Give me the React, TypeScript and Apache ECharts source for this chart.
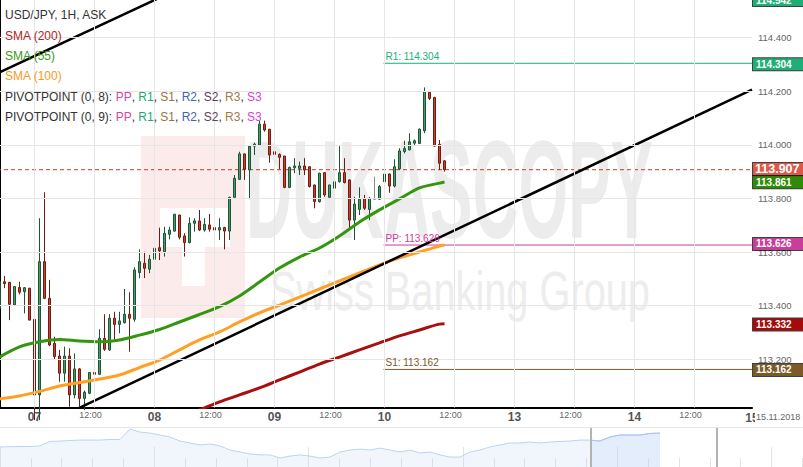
import React, { useEffect, useRef } from "react";
import * as echarts from "echarts";

const FONT = "'Liberation Sans', Arial, Helvetica, sans-serif";

// ---- x axis: hourly slots ----
const SLOT_COUNT = 151;
const slots = Array.from({ length: SLOT_COUNT }, (_, i) => String(i));
const tickSlots = [7, 19, 31, 43, 55, 67, 77, 91, 103, 115, 127, 139];
const tickTexts = ["07", "12:00", "08", "12:00", "09", "12:00", "10", "12:00", "13", "12:00", "14", "12:00"];
const lastDayLabel = "15";
const dateLabel = "15.11.2018";

// ---- candles: [open, close, low, high] ----
const candles: number[][] = [
  [113.390, 113.489, 113.376, 113.499],
  [113.489, 113.482, 113.465, 113.511],
  [113.487, 113.405, 113.346, 113.488],
  [113.402, 113.471, 113.399, 113.473],
  [113.468, 113.450, 113.442, 113.489],
  [113.452, 113.467, 113.371, 113.468],
  [113.465, 113.346, 113.345, 113.466],
  [113.349, 113.067, 112.973, 113.350],
  [113.067, 113.564, 112.973, 113.726],
  [113.564, 113.427, 113.425, 113.823],
  [113.427, 113.253, 113.249, 113.496],
  [113.259, 113.210, 113.197, 113.284],
  [113.212, 113.148, 113.116, 113.235],
  [113.148, 113.212, 113.116, 113.247],
  [113.212, 113.067, 113.023, 113.241],
  [113.067, 113.164, 113.054, 113.222],
  [113.164, 113.054, 113.023, 113.167],
  [113.054, 113.077, 113.010, 113.083],
  [113.073, 113.151, 113.070, 113.152],
  [113.151, 113.144, 113.123, 113.228],
  [113.144, 113.278, 113.141, 113.312],
  [113.278, 113.237, 113.231, 113.368],
  [113.235, 113.353, 113.231, 113.368],
  [113.353, 113.330, 113.274, 113.377],
  [113.330, 113.343, 113.297, 113.377],
  [113.336, 113.368, 113.334, 113.462],
  [113.368, 113.353, 113.228, 113.450],
  [113.349, 113.533, 113.340, 113.543],
  [113.523, 113.564, 113.502, 113.610],
  [113.558, 113.539, 113.503, 113.601],
  [113.536, 113.573, 113.521, 113.589],
  [113.573, 113.614, 113.558, 113.635],
  [113.616, 113.604, 113.570, 113.691],
  [113.601, 113.670, 113.583, 113.694],
  [113.666, 113.682, 113.647, 113.694],
  [113.678, 113.741, 113.676, 113.742],
  [113.738, 113.655, 113.647, 113.739],
  [113.660, 113.635, 113.583, 113.670],
  [113.635, 113.707, 113.632, 113.729],
  [113.707, 113.716, 113.676, 113.726],
  [113.716, 113.682, 113.678, 113.757],
  [113.682, 113.703, 113.676, 113.726],
  [113.701, 113.685, 113.676, 113.742],
  [113.691, 113.682, 113.622, 113.707],
  [113.682, 113.691, 113.645, 113.726],
  [113.691, 113.678, 113.610, 113.694],
  [113.678, 113.804, 113.645, 113.806],
  [113.804, 113.875, 113.800, 113.887],
  [113.871, 113.966, 113.869, 113.974],
  [113.966, 113.909, 113.869, 113.967],
  [113.906, 113.995, 113.797, 113.999],
  [113.995, 114.002, 113.962, 114.008],
  [113.999, 114.077, 113.997, 114.090],
  [114.077, 114.055, 114.049, 114.090],
  [114.058, 113.962, 113.933, 114.059],
  [113.974, 113.964, 113.956, 114.018],
  [113.964, 113.953, 113.909, 113.968],
  [113.958, 113.841, 113.838, 113.958],
  [113.841, 113.916, 113.838, 113.918],
  [113.914, 113.921, 113.894, 113.950],
  [113.912, 113.921, 113.887, 113.937],
  [113.921, 113.906, 113.887, 113.950],
  [113.918, 113.844, 113.841, 113.919],
  [113.850, 113.788, 113.763, 113.851],
  [113.788, 113.894, 113.784, 113.896],
  [113.896, 113.813, 113.806, 113.897],
  [113.804, 113.850, 113.800, 113.851],
  [113.838, 113.862, 113.834, 113.869],
  [113.862, 113.896, 113.859, 113.995],
  [113.896, 113.859, 113.856, 113.950],
  [113.869, 113.719, 113.688, 113.870],
  [113.719, 113.779, 113.645, 113.806],
  [113.759, 113.797, 113.738, 113.841],
  [113.800, 113.763, 113.757, 113.813],
  [113.759, 113.800, 113.719, 113.806],
  [113.797, 113.797, 113.794, 113.881],
  [113.797, 113.844, 113.794, 113.850],
  [113.862, 113.891, 113.859, 113.912],
  [113.891, 113.846, 113.821, 113.892],
  [113.846, 113.918, 113.841, 113.946],
  [113.910, 113.977, 113.906, 113.987],
  [113.975, 113.986, 113.968, 114.015],
  [113.981, 114.011, 113.979, 114.043],
  [114.006, 114.015, 113.999, 114.020],
  [114.005, 114.058, 114.003, 114.061],
  [114.052, 114.198, 114.043, 114.214],
  [114.196, 114.173, 114.167, 114.197],
  [114.176, 113.995, 113.993, 114.179],
  [114.002, 113.931, 113.906, 114.018],
  [113.940, 113.907, 113.900, 113.943],
];

// ---- y axis ----
const yMin = 113.02;
const yMax = 114.54;
const yTicks = [113.2, 113.4, 113.6, 113.8, 114.0, 114.2, 114.4];

// ---- moving averages (slot, value) ----
const smaSlots = [0, 4, 8, 12, 16, 20, 24, 28, 32, 36, 40, 44, 48, 52, 56, 60, 64, 68, 72, 76, 80, 84, 88, 89];
const sma55 = [113.208, 113.246, 113.265, 113.274, 113.268, 113.265, 113.272, 113.290, 113.311, 113.339, 113.367, 113.396, 113.436, 113.488, 113.540, 113.581, 113.615, 113.660, 113.712, 113.757, 113.798, 113.839, 113.857, 113.861];
const sma100 = [113.052, 113.063, 113.080, 113.100, 113.113, 113.126, 113.141, 113.169, 113.197, 113.235, 113.272, 113.302, 113.339, 113.373, 113.402, 113.432, 113.462, 113.492, 113.522, 113.552, 113.578, 113.600, 113.622, 113.626];
const sma200Slots = [36, 40, 44, 48, 52, 56, 60, 64, 68, 72, 76, 80, 84, 88, 89];
const sma200 = [112.985, 113.011, 113.041, 113.067, 113.093, 113.123, 113.152, 113.182, 113.208, 113.235, 113.261, 113.287, 113.309, 113.331, 113.332];

// ---- trend lines (slot, value) ----
const trendA = [[-0.5, 114.266], [40, 114.618]];
const trendB = [[10, 112.966], [150.5, 114.206]];

// ---- pivot levels ----
const pivotNames = ["R1", "PP", "S1"];
const pivotValues = [114.304, 113.626, 113.162];
const pivotColors = ["#17b07a", "#cc3d9c", "#7d5b2a"];
const pivotStartSlot = 76.8;
const lastSlotEdge = 150.5;
const firstSlotEdge = -0.5;

// ---- price tags on the right ----
const lastPrice = 113.907;
const tagValues = [114.542, 114.304, 113.907, 113.861, 113.626, 113.332, 113.162];
const tagColors = ["#1fae78", "#1fae78", "#dc5848", "#2f8a06", "#c93d9b", "#a50b0b", "#7b5a27"];

// ---- navigator (one point every 10 px) ----
const navPrices = [
  113.03, 113.04, 113.05, 113.05, 113.08, 113.31, 113.33, 113.36, 113.38, 113.38,
  113.38, 113.41, 113.41, 113.95, 113.79, 113.74, 113.64, 113.54, 113.33, 113.23,
  113.13, 113.18, 113.08, 112.87, 112.77, 112.67, 112.62, 112.62, 112.46, 112.56,
  112.62, 112.56, 112.46, 112.51, 112.77, 112.87, 112.92, 112.87, 112.97, 112.87,
  112.77, 112.87, 112.72, 112.77, 112.62, 112.51, 112.51, 112.77, 112.87, 113.03,
  113.13, 113.23, 113.23, 113.28, 113.23, 113.28, 113.31, 113.33, 113.38, 113.38,
  113.33, 113.54, 113.64, 113.64, 113.64, 113.72, 113.74,
];
const navWindow = [59.1, 71.7];
const navWindowFrom = 59;

// ---- legend ----
const titleText = "USD/JPY, 1H, ASK";
const smaLegend = ["SMA (200)", "SMA (55)", "SMA (100)"];
const smaColors = ["#b32424", "#3b9a14", "#f59a1f"];
const pivotLegendTitles = ["PIVOTPOINT (0, 8): ", "PIVOTPOINT (0, 9): "];
const pivotLegendNames = ["PP", "R1", "S1", "R2", "S2", "R3", "S3"];
const pivotLegendColors = ["#d24a9c", "#22a878", "#977640", "#4563b3", "#5d3e60", "#a27b48", "#d63fd6"];

function buildOption() {
  const candleData = slots.map((_, i) => (i < candles.length ? candles[i] : "-"));
  const pair = (xs: number[], ys: number[]) => xs.map((x, i) => [x, ys[i]]);

  const gridMarks: any[] = [];
  tickSlots.forEach((s) => gridMarks.push({ xAxis: slots[s] }));
  yTicks.forEach((v) =>
    gridMarks.push({
      yAxis: v,
      label: {
        show: true,
        position: "end",
        distance: 6,
        formatter: v.toFixed(3),
        color: "#666",
        fontSize: 9.5,
        fontFamily: FONT,
      },
    })
  );

  // pivot lines drawn as line series; their captions as transparent markLines
  const pivotSeries: any[] = [];
  pivotValues.forEach((v, k) => {
    pivotSeries.push({
      type: "line", xAxisIndex: 1, yAxisIndex: 0, z: 1, silent: true, showSymbol: false,
      data: [[pivotStartSlot, v], [lastSlotEdge, v]],
      lineStyle: { color: pivotColors[k], width: 1 },
      markLine: {
        silent: true, symbol: ["none", "none"], animation: false,
        lineStyle: { color: "rgba(0,0,0,0)", width: 1 },
        emphasis: { disabled: true },
        label: {
          show: true,
          position: "insideStartTop",
          distance: 2,
          formatter: `${pivotNames[k]}: ${v.toFixed(3)}`,
          color: pivotColors[k],
          fontSize: 10,
          fontFamily: FONT,
        },
        data: [[{ coord: [pivotStartSlot, v] }, { coord: [lastSlotEdge, v] }]],
      },
    });
  });

  const tagMarks = tagValues.map((v, k) => {
    const big = v === lastPrice;
    return {
      yAxis: v,
      label: {
        show: true,
        position: "end",
        distance: 1,
        formatter: v.toFixed(3),
        color: "#ffffff",
        fontWeight: "bold",
        fontSize: big ? 12.5 : 10,
        lineHeight: big ? 12 : 11,
        fontFamily: FONT,
        backgroundColor: tagColors[k],
        borderColor: "rgba(0,0,0,0.75)",
        borderWidth: 1,
        padding: big ? [0, 2, 0, 2] : [1, 3, 0, 3],
        width: big ? 46 : 44,
        align: "left",
      },
    };
  });

  const legendRich: any = { a: { fill: "#333", fontSize: 12, fontFamily: FONT } };
  pivotLegendNames.forEach((n, k) => {
    legendRich["p" + k] = { fill: pivotLegendColors[k], fontSize: 12, fontFamily: FONT };
  });
  const pivotLegendText = (title: string) =>
    `{a|${title}}` + pivotLegendNames.map((n, k) => `{p${k}|${n}}`).join("{a|, }");

  const rowY = [15, 35.7, 55.7, 76, 96.7, 116.7];
  const legendRows: any[] = [
    { type: "text", z: 100, x: 5, y: rowY[0], style: { text: titleText, fill: "#333", fontSize: 12, fontFamily: FONT, verticalAlign: "middle" } },
    ...smaLegend.map((t, k) => ({
      type: "text", z: 100, x: 5, y: rowY[k + 1],
      style: { text: t, fill: smaColors[k], fontSize: 12, fontFamily: FONT, verticalAlign: "middle" },
    })),
    ...pivotLegendTitles.map((t, k) => ({
      type: "text", z: 100, x: 5, y: rowY[k + 4],
      style: { text: pivotLegendText(t), rich: legendRich, fill: "#333", fontSize: 12, fontFamily: FONT, verticalAlign: "middle" },
    })),
  ];

  const navPairs = navPrices.map((v, i) => [i, v]);
  const navWindowPairs = navPairs.filter((p) => p[0] >= navWindowFrom);

  return {
    animation: false,
    textStyle: { fontFamily: FONT },
    grid: [
      { left: -3, right: 51, top: 0, height: 407.5, containLabel: false, outerBoundsMode: "none" },
      { left: 0, right: 0, top: 428, height: 39, containLabel: false, outerBoundsMode: "none" },
    ],
    xAxis: [
      {
        type: "category",
        gridIndex: 0,
        data: slots,
        boundaryGap: true,
        axisLine: { show: true, lineStyle: { color: "#000", width: 2 } },
        axisTick: { show: false },
        splitLine: { show: false },
        axisLabel: {
          interval: (index: number) => tickSlots.includes(index),
          margin: 3,
          formatter: (_v: string, index: number) => {
            const k = tickSlots.indexOf(index);
            if (k < 0) return "";
            const t = tickTexts[k];
            return t.includes(":") ? `{hr|${t}}` : `{day|${t}}`;
          },
          rich: {
            day: { fontSize: 12, fontWeight: "bold", color: "#555", fontFamily: FONT },
            hr: { fontSize: 9, color: "#666", fontFamily: FONT, padding: [0, 8, 0, 0] },
          },
        },
      },
      { type: "value", gridIndex: 0, min: firstSlotEdge, max: lastSlotEdge, show: false },
      {
        type: "value", gridIndex: 1, min: 0, max: 80.3, interval: 3.086, position: "bottom",
        axisLine: { show: false }, axisLabel: { show: false }, splitLine: { show: false },
        axisTick: { show: true, inside: true, length: 9, lineStyle: { color: "#e3e3e3" } },
      },
      {
        type: "value", gridIndex: 1, min: 0, max: 80.3, interval: 15.43, position: "bottom",
        axisLine: { show: false }, axisLabel: { show: false }, splitLine: { show: false },
        axisTick: { show: true, inside: true, length: 20, lineStyle: { color: "#e3e3e3" } },
      },
    ],
    yAxis: [
      {
        type: "value", gridIndex: 0, min: yMin, max: yMax, position: "right",
        axisLine: { show: true, lineStyle: { color: "#000", width: 2 } },
        axisLabel: { show: false }, axisTick: { show: false }, splitLine: { show: false },
      },
      { type: "value", gridIndex: 1, min: 112, max: 114, show: false },
    ],
    graphic: [
      { type: "rect", z: 0, silent: true, shape: { x: 141, y: 136, width: 104, height: 182 }, style: { fill: "#fcebeb" } },
      { type: "rect", z: 0, silent: true, shape: { x: 160, y: 208, width: 70, height: 39 }, style: { fill: "#ffffff" } },
      { type: "rect", z: 0, silent: true, shape: { x: 182, y: 247, width: 23, height: 39 }, style: { fill: "#ffffff" } },
      {
        type: "text", z: 0, silent: true, x: 246, y: 190, scaleX: 0.455,
        style: { text: "DUKASCOPY", fill: "#ececec", fontSize: 140, fontWeight: "bold", fontFamily: FONT, align: "left", verticalAlign: "middle" },
      },
      {
        type: "text", z: 0, silent: true, x: 270, y: 290, scaleX: 0.71,
        style: { text: "Swiss Banking Group", fill: "#ededed", fontSize: 56, fontFamily: FONT, align: "left", verticalAlign: "middle" },
      },
      { type: "line", z: 0, silent: true, shape: { x1: 0, y1: 427.5, x2: 803, y2: 427.5 }, style: { stroke: "#e6e6e6", lineWidth: 1 } },
      {
        type: "text", z: 50, x: 752, y: 417.5,
        style: { text: lastDayLabel, fill: "#555", fontSize: 12, fontWeight: "bold", fontFamily: FONT, align: "center", verticalAlign: "middle" },
      },
      {
        type: "text", z: 51, x: 755, y: 417,
        style: { text: dateLabel, fill: "#666", fontSize: 9, fontFamily: FONT, align: "left", verticalAlign: "middle", backgroundColor: "#fff", padding: [1, 1, 1, 1] },
      },
      ...legendRows,
    ],
    series: [
      {
        type: "line", xAxisIndex: 0, yAxisIndex: 0, data: [], z: 1, silent: true,
        markLine: {
          silent: true, symbol: ["none", "none"], animation: false,
          lineStyle: { color: "#e6e6e6", width: 1, type: "solid" },
          label: { show: false },
          emphasis: { disabled: true },
          data: gridMarks,
        },
      },
      {
        type: "line", xAxisIndex: 1, yAxisIndex: 0, z: 1, silent: true, showSymbol: false,
        data: [[firstSlotEdge, lastPrice], [lastSlotEdge, lastPrice]],
        lineStyle: { color: "#cc3b26", width: 1, type: [4, 3] },
      },
      ...pivotSeries,
      {
        type: "candlestick", xAxisIndex: 0, yAxisIndex: 0, z: 2, silent: true,
        data: candleData, barWidth: 3.4,
        itemStyle: {
          color: "#4b9a6b", color0: "#c9412f",
          borderColor: "#1f5335", borderColor0: "#701b12",
          borderColorDoji: "#8a8a8a", borderWidth: 1,
        },
        emphasis: { disabled: true },
      },
      {
        type: "line", xAxisIndex: 1, yAxisIndex: 0, z: 3, silent: true, showSymbol: false, smooth: 0.3,
        data: pair(sma200Slots, sma200), lineStyle: { color: "#a80f0f", width: 3 },
      },
      {
        type: "line", xAxisIndex: 1, yAxisIndex: 0, z: 3, silent: true, showSymbol: false, smooth: 0.3,
        data: pair(smaSlots, sma100), lineStyle: { color: "#ffa024", width: 3 },
      },
      {
        type: "line", xAxisIndex: 1, yAxisIndex: 0, z: 3, silent: true, showSymbol: false, smooth: 0.3,
        data: pair(smaSlots, sma55), lineStyle: { color: "#33960e", width: 3 },
      },
      {
        type: "line", xAxisIndex: 1, yAxisIndex: 0, z: 3, silent: true, showSymbol: false,
        data: trendA, lineStyle: { color: "#000", width: 2.5 },
      },
      {
        type: "line", xAxisIndex: 1, yAxisIndex: 0, z: 3, silent: true, showSymbol: false,
        data: trendB, lineStyle: { color: "#000", width: 2.5 },
      },
      {
        type: "line", xAxisIndex: 0, yAxisIndex: 0, data: [], z: 10, silent: true,
        markLine: {
          silent: true, symbol: ["none", "none"], animation: false,
          lineStyle: { color: "rgba(0,0,0,0)", width: 1 },
          emphasis: { disabled: true },
          data: tagMarks,
        },
      },
      {
        type: "line", xAxisIndex: 2, yAxisIndex: 1, z: 2, silent: true, showSymbol: false,
        data: navPairs,
        lineStyle: { color: "#bcd3f2", width: 1 },
        areaStyle: { color: "rgba(190,212,245,0.3)" },
        markLine: {
          silent: true, symbol: ["none", "none"], animation: false,
          lineStyle: { color: "#b3b3b3", width: 2, type: "solid" },
          label: { show: false },
          data: navWindow.map((x) => ({ xAxis: x })),
        },
      },
      {
        type: "line", xAxisIndex: 2, yAxisIndex: 1, z: 2, silent: true, showSymbol: false,
        data: navWindowPairs,
        lineStyle: { color: "#a8c4ee", width: 1 },
        areaStyle: { color: "rgba(160,195,245,0.23)" },
      },
    ],
  };
}

export default function App() {
  const ref = useRef<HTMLDivElement>(null);
  useEffect(() => {
    if (!ref.current) return;
    const chart = echarts.init(ref.current, null, { renderer: "svg" });
    chart.setOption(buildOption() as any);
    return () => chart.dispose();
  }, []);
  return (
    <div
      ref={ref}
      style={{ position: "absolute", left: 0, top: 0, width: 803, height: 467, background: "#fff" }}
    />
  );
}
